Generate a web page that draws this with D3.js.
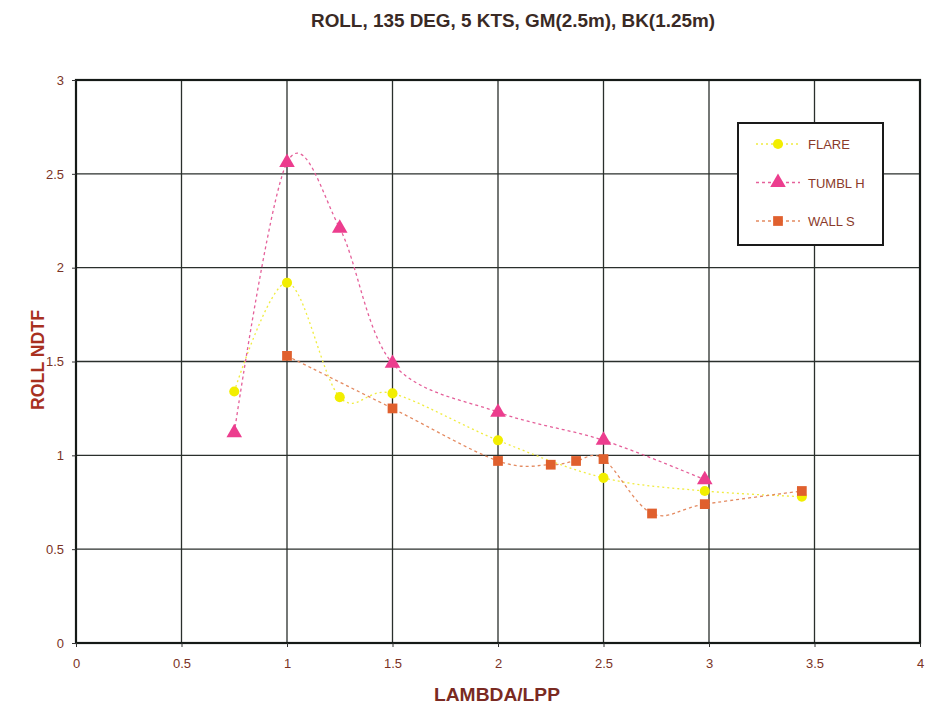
<!DOCTYPE html>
<html lang="en">
<head>
<meta charset="utf-8">
<title>ROLL, 135 DEG, 5 KTS</title>
<script src="https://d3js.org/d3.v7.min.js"></script>
<style>
    body { margin: 0; background: #fff; }
    text { font-family: "Liberation Sans Narrow", "Liberation Sans", Arial, sans-serif; }
    .tick text { fill: #7a3325; font-size: 13px; }
    .grid line { stroke: #2a2f2c; stroke-width: 1.3; }
</style>
</head>
<body>
<svg width="931" height="711"></svg>
<script>
// values
var flareX = [0.75, 1.0, 1.25, 1.5, 2.0, 2.5, 2.98, 3.44];
var flareY = [1.34, 1.92, 1.31, 1.33, 1.08, 0.88, 0.81, 0.78];

var tumblX = [0.75, 1.0, 1.25, 1.5, 2.0, 2.5, 2.98];
var tumblY = [1.12, 2.56, 2.21, 1.49, 1.23, 1.08, 0.87];

var wallX = [1.0, 1.5, 2.0, 2.25, 2.37, 2.5, 2.73, 2.98, 3.44];
var wallY = [1.53, 1.25, 0.97, 0.95, 0.97, 0.98, 0.69, 0.74, 0.81];

var xTicks = [0, 0.5, 1, 1.5, 2, 2.5, 3, 3.5, 4];
var yTicks = [0, 0.5, 1, 1.5, 2, 2.5, 3];

var seriesNames = ["FLARE", "TUMBL H", "WALL S"];

var svg = d3.select("svg"),
    margin = {top: 80, right: 11, bottom: 68, left: 76},
    width = +svg.attr("width") - margin.left - margin.right,
    height = +svg.attr("height") - margin.top - margin.bottom,
    g = svg.append("g").attr("transform", "translate(" + margin.left + "," + margin.top + ")");

var x = d3.scaleLinear().domain([0, 4]).range([0, width]);
var y = d3.scaleLinear().domain([0, 3]).range([height, 0]);

var series = [
    {name: seriesNames[0], xs: flareX, ys: flareY, color: "#f2ee00", line: "#f0ec40", dash: "2,3", shape: d3.symbolCircle, size: 80},
    {name: seriesNames[1], xs: tumblX, ys: tumblY, color: "#ec3d8e", line: "#e5609a", dash: "3,3", shape: d3.symbolTriangle, size: 105},
    {name: seriesNames[2], xs: wallX, ys: wallY, color: "#e0602e", line: "#e48a60", dash: "3,3", shape: d3.symbolSquare, size: 95}
];

// title
svg.append("text")
    .attr("x", 513).attr("y", 27)
    .attr("text-anchor", "middle")
    .attr("textLength", 404).attr("lengthAdjust", "spacingAndGlyphs")
    .style("font-size", "18px").style("font-weight", "bold")
    .style("fill", "#3a2a25")
    .text("ROLL, 135 DEG, 5 KTS, GM(2.5m), BK(1.25m)");

// grid
g.append("g").attr("class", "grid")
    .selectAll("line.v").data(xTicks).enter().append("line")
    .attr("x1", function(d) { return x(d); }).attr("x2", function(d) { return x(d); })
    .attr("y1", 0).attr("y2", height);
g.append("g").attr("class", "grid")
    .selectAll("line.h").data(yTicks).enter().append("line")
    .attr("x1", 0).attr("x2", width)
    .attr("y1", function(d) { return y(d); }).attr("y2", function(d) { return y(d); });

g.append("rect")
    .attr("width", width).attr("height", height)
    .attr("fill", "none").attr("stroke", "#151a17").attr("stroke-width", 2.2);

// axes
var xAxis = g.append("g")
    .attr("transform", "translate(0," + height + ")")
    .call(d3.axisBottom(x).tickValues(xTicks).tickFormat(d3.format("")).tickSize(4).tickPadding(12));
var yAxis = g.append("g")
    .call(d3.axisLeft(y).tickValues(yTicks).tickFormat(d3.format("")).tickSize(4).tickPadding(8));
xAxis.select(".domain").remove();
yAxis.select(".domain").remove();
g.selectAll(".tick line").attr("stroke", "#333");

svg.append("text")
    .attr("x", 497).attr("y", 701)
    .attr("text-anchor", "middle")
    .attr("textLength", 126).attr("lengthAdjust", "spacingAndGlyphs")
    .style("font-size", "18px").style("font-weight", "bold")
    .style("fill", "#7a2a22")
    .text("LAMBDA/LPP");

svg.append("text")
    .attr("transform", "translate(44,360) rotate(-90)")
    .attr("text-anchor", "middle")
    .attr("textLength", 100).attr("lengthAdjust", "spacingAndGlyphs")
    .style("font-size", "18px").style("font-weight", "bold")
    .style("fill", "#a8301f")
    .text("ROLL NDTF");

// smoothed lines, like the spreadsheet's smooth option
var line = d3.line()
    .x(function(d) { return x(d[0]); })
    .y(function(d) { return y(d[1]); })
    .curve(d3.curveCardinal.tension(0));

series.forEach(function(s) {
    var pts = s.xs.map(function(v, i) { return [v, s.ys[i]]; });
    g.append("path")
        .datum(pts)
        .attr("fill", "none")
        .attr("stroke", s.line)
        .attr("stroke-width", 1.3)
        .attr("stroke-dasharray", s.dash)
        .attr("d", line);
    g.selectAll(null).data(pts).enter().append("path")
        .attr("transform", function(d) { return "translate(" + x(d[0]) + "," + y(d[1]) + ")"; })
        .attr("d", d3.symbol().type(s.shape).size(s.size))
        .attr("fill", s.color);
});

// legend
var legend = svg.append("g").attr("transform", "translate(738,123)");
legend.append("rect")
    .attr("width", 145).attr("height", 122)
    .attr("fill", "#fff").attr("stroke", "#1a1a1a").attr("stroke-width", 2);
series.forEach(function(s, i) {
    var row = legend.append("g").attr("transform", "translate(0," + (21 + i * 38.5) + ")");
    row.append("line")
        .attr("x1", 18).attr("x2", 62)
        .attr("stroke", s.line).attr("stroke-width", 1.3)
        .attr("stroke-dasharray", s.dash);
    row.append("path")
        .attr("transform", "translate(40,0)")
        .attr("d", d3.symbol().type(s.shape).size(s.size))
        .attr("fill", s.color);
    row.append("text")
        .attr("x", 70).attr("y", 5)
        .style("font-size", "13px")
        .style("fill", "#8a3a2a")
        .text(s.name);
});
</script>
</body>
</html>
